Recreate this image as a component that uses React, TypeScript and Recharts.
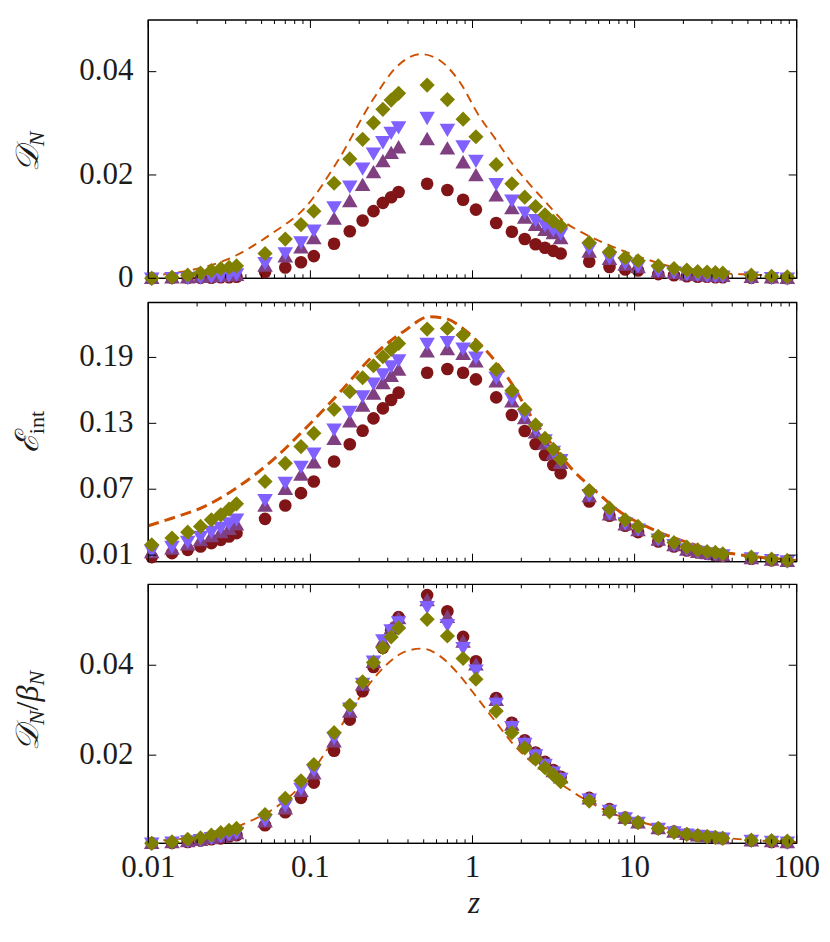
import React from 'react';
import { ComposedChart, Scatter, Line, XAxis, YAxis, Label, ReferenceArea } from 'recharts';

// ---------- data ----------
const zValues = [
  0.0105, 0.014, 0.0175, 0.021, 0.0245, 0.028, 0.0315, 0.035, 0.0525, 0.07, 0.0875,
  0.105, 0.14, 0.175, 0.21, 0.245, 0.28, 0.315, 0.35, 0.525, 0.7, 0.875,
  1.05, 1.4, 1.75, 2.1, 2.45, 2.8, 3.15, 3.5, 5.25, 7, 8.75,
  10.5, 14, 17.5, 21, 24.5, 28, 31.5, 35, 52.5, 70, 87.5,
];

const xMajorTicks = [0.01, 0.1, 1, 10, 100];
const xMajorLabels = ['0.01', '0.1', '1', '10', '100'];

// Panel 1: D_N
const dnRed = [0.0000,0.0001,0.0001,0.0001,0.0001,0.0002,0.0002,0.0003,0.0012,0.0021,0.0031,0.0043,0.0067,0.0091,0.0112,0.0130,0.0146,0.0157,0.0167,0.0183,0.0171,0.0152,0.0133,0.0107,0.0090,0.0076,0.0066,0.0059,0.0053,0.0048,0.0032,0.0022,0.0017,0.0015,0.0008,0.0006,0.0004,0.0003,0.0003,0.0002,0.0002,0.0001,0.0001,0.0000];
const dnPurple = [0.0000,0.0001,0.0001,0.0002,0.0003,0.0004,0.0005,0.0006,0.0024,0.0042,0.0059,0.0077,0.0115,0.0149,0.0180,0.0205,0.0226,0.0242,0.0253,0.0269,0.0251,0.0224,0.0199,0.0160,0.0135,0.0117,0.0103,0.0093,0.0087,0.0077,0.0051,0.0037,0.0026,0.0021,0.0013,0.0010,0.0007,0.0006,0.0005,0.0004,0.0004,0.0002,0.0001,0.0000];
const dnLavender = [0.0000,0.0001,0.0001,0.0002,0.0003,0.0005,0.0006,0.0008,0.0030,0.0049,0.0070,0.0093,0.0138,0.0178,0.0213,0.0242,0.0264,0.0282,0.0293,0.0311,0.0288,0.0256,0.0228,0.0183,0.0151,0.0128,0.0113,0.0103,0.0094,0.0087,0.0058,0.0040,0.0030,0.0024,0.0015,0.0012,0.0008,0.0006,0.0005,0.0004,0.0004,0.0002,0.0001,0.0000];
const dnOlive = [0.0000,0.0002,0.0006,0.0010,0.0015,0.0019,0.0021,0.0024,0.0048,0.0076,0.0104,0.0130,0.0184,0.0231,0.0269,0.0301,0.0327,0.0345,0.0358,0.0374,0.0346,0.0308,0.0274,0.0220,0.0183,0.0157,0.0139,0.0123,0.0110,0.0101,0.0069,0.0051,0.0040,0.0034,0.0024,0.0019,0.0016,0.0013,0.0012,0.0011,0.0010,0.0006,0.0004,0.0003];
const dnCurveZ = [0.01,0.0178,0.031,0.058,0.0935,0.15,0.24,0.35,0.48,0.62,0.83,1.1,1.39,1.77,2.24,2.84,3.6,4.79,7.35,11.8,19,30.5,54,100];
const dnCurve = [0.00045,0.0015,0.0037,0.0087,0.0138,0.0231,0.0343,0.0413,0.0434,0.0423,0.0381,0.0314,0.0269,0.0221,0.0183,0.0147,0.0112,0.0088,0.0061,0.0037,0.0019,0.0011,0.0007,0.0004];

// Panel 2: E_int
const eiRed = [0.0082,0.0118,0.0148,0.0179,0.0209,0.0239,0.0270,0.0300,0.0430,0.0552,0.0664,0.0770,0.0952,0.1109,0.1233,0.1345,0.1436,0.1512,0.1579,0.1761,0.1794,0.1761,0.1700,0.1536,0.1376,0.1230,0.1112,0.1012,0.0921,0.0845,0.0588,0.0458,0.0367,0.0309,0.0224,0.0179,0.0142,0.0124,0.0112,0.0103,0.0094,0.0067,0.0052,0.0045];
const eiPurple = [0.0124,0.0155,0.0194,0.0233,0.0270,0.0306,0.0336,0.0376,0.0548,0.0700,0.0830,0.0942,0.1155,0.1315,0.1458,0.1567,0.1664,0.1730,0.1785,0.1952,0.1973,0.1930,0.1860,0.1679,0.1497,0.1345,0.1215,0.1112,0.1021,0.0936,0.0633,0.0467,0.0376,0.0324,0.0239,0.0188,0.0148,0.0127,0.0115,0.0106,0.0097,0.0070,0.0055,0.0045];
const eiLavender = [0.0142,0.0179,0.0224,0.0270,0.0315,0.0352,0.0391,0.0427,0.0603,0.0761,0.0906,0.1027,0.1245,0.1406,0.1548,0.1664,0.1748,0.1821,0.1876,0.2027,0.2042,0.1982,0.1900,0.1718,0.1527,0.1376,0.1245,0.1148,0.1042,0.0967,0.0648,0.0482,0.0391,0.0336,0.0245,0.0194,0.0155,0.0133,0.0118,0.0109,0.0100,0.0073,0.0058,0.0045];
const eiOlive = [0.0194,0.0255,0.0309,0.0361,0.0421,0.0467,0.0518,0.0567,0.0770,0.0936,0.1088,0.1209,0.1427,0.1588,0.1715,0.1824,0.1906,0.1973,0.2027,0.2158,0.2164,0.2103,0.2003,0.1791,0.1597,0.1427,0.1285,0.1164,0.1064,0.0973,0.0688,0.0527,0.0421,0.0361,0.0270,0.0215,0.0173,0.0148,0.0133,0.0124,0.0112,0.0082,0.0064,0.0052];
const eiCurveZ = [0.01,0.014,0.0226,0.036,0.058,0.0935,0.15,0.24,0.386,0.54,0.68,0.9,1.15,1.77,2.24,2.84,4.15,5.79,8.08,11.8,19,30.5,49,79,100];
const eiCurve = [0.0367,0.0436,0.0548,0.0724,0.096,0.1255,0.1573,0.1906,0.2148,0.227,0.2255,0.2148,0.2,0.1648,0.139,0.1179,0.0876,0.0679,0.0497,0.0361,0.0239,0.0148,0.0094,0.0064,0.005];

// Panel 3: D_N / beta_N
const dbRed = [0.0004,0.0005,0.0007,0.0010,0.0013,0.0015,0.0019,0.0022,0.0044,0.0073,0.0105,0.0139,0.0210,0.0279,0.0342,0.0396,0.0439,0.0478,0.0507,0.0556,0.0520,0.0463,0.0409,0.0327,0.0272,0.0233,0.0206,0.0185,0.0167,0.0152,0.0105,0.0080,0.0061,0.0050,0.0037,0.0030,0.0024,0.0021,0.0019,0.0017,0.0015,0.0010,0.0007,0.0006];
const dbPurple = [0.0004,0.0006,0.0008,0.0011,0.0015,0.0018,0.0022,0.0026,0.0052,0.0081,0.0120,0.0159,0.0230,0.0296,0.0356,0.0407,0.0453,0.0481,0.0504,0.0544,0.0507,0.0452,0.0401,0.0322,0.0267,0.0230,0.0204,0.0181,0.0164,0.0150,0.0103,0.0078,0.0060,0.0050,0.0037,0.0029,0.0024,0.0021,0.0019,0.0017,0.0015,0.0010,0.0008,0.0006];
const dbLavender = [0.0004,0.0006,0.0009,0.0012,0.0016,0.0020,0.0024,0.0028,0.0056,0.0089,0.0126,0.0167,0.0239,0.0304,0.0359,0.0409,0.0456,0.0478,0.0496,0.0530,0.0490,0.0439,0.0389,0.0315,0.0263,0.0226,0.0200,0.0179,0.0162,0.0148,0.0102,0.0077,0.0060,0.0050,0.0037,0.0029,0.0024,0.0021,0.0019,0.0017,0.0015,0.0010,0.0008,0.0006];
const dbOlive = [0.0004,0.0007,0.0013,0.0016,0.0022,0.0028,0.0033,0.0037,0.0068,0.0104,0.0143,0.0179,0.0250,0.0311,0.0363,0.0406,0.0439,0.0463,0.0483,0.0502,0.0465,0.0415,0.0369,0.0298,0.0250,0.0216,0.0191,0.0172,0.0156,0.0141,0.0098,0.0074,0.0059,0.0050,0.0037,0.0028,0.0024,0.0021,0.0019,0.0017,0.0015,0.0011,0.0010,0.0009];
const dbCurveZ = [0.01,0.0178,0.0286,0.0418,0.064,0.0935,0.124,0.165,0.22,0.292,0.388,0.49,0.62,0.83,1.0,1.39,1.77,2.24,2.84,3.6,5.02,7.35,11.8,19,30.5,54,100];
const dbCurve = [0.0009,0.0016,0.003,0.0052,0.0089,0.0144,0.0207,0.0281,0.0348,0.04,0.0431,0.0437,0.0422,0.0378,0.0341,0.0274,0.0226,0.0189,0.0159,0.0133,0.01,0.007,0.0048,0.0031,0.0019,0.0011,0.0007];

const yTicks1 = [0, 0.02, 0.04];
const yLabels1 = ['0', '0.02', '0.04'];
const yTicks2 = [0.01, 0.07, 0.13, 0.19];
const yLabels2 = ['0.01', '0.07', '0.13', '0.19'];
const yTicks3 = [0.02, 0.04];
const yLabels3 = ['0.02', '0.04'];

// ---------- style ----------
const RED = '#801416';
const PURPLE = '#7f3f80';
const LAVENDER = '#8060ff';
const OLIVE = '#808000';
const DASH = '#cc5000';
const FONT = '"Liberation Serif", "DejaVu Serif", serif';
const TXT = '#1c1c1c';
const W = 830;
const PL = 148.3;
const PR = 796.7;
const FS = 31;

const zip = (xs: number[], ys: number[]) => xs.map((x, i) => ({ x, y: ys[i] }));

const xAllTicks: number[] = [];
xMajorTicks.forEach((m, i) => {
  xAllTicks.push(m);
  if (i < xMajorTicks.length - 1) {
    for (let k = 2; k <= 9; k++) xAllTicks.push(parseFloat((m * k).toPrecision(3)));
  }
});

const circleShape = (p: any) => <circle cx={p.cx} cy={p.cy} r={6.3} fill={RED} />;
const upShape = (p: any) => (
  <polygon points={`${p.cx},${p.cy - 7.5} ${p.cx + 7.8},${p.cy + 5.8} ${p.cx - 7.8},${p.cy + 5.8}`} fill={PURPLE} />
);
const downShape = (p: any) => (
  <polygon points={`${p.cx - 7.8},${p.cy - 5.8} ${p.cx + 7.8},${p.cy - 5.8} ${p.cx},${p.cy + 7.5}`} fill={LAVENDER} />
);
const diamondShape = (p: any) => (
  <polygon points={`${p.cx},${p.cy - 7.6} ${p.cx + 7.6},${p.cy} ${p.cx},${p.cy + 7.6} ${p.cx - 7.6},${p.cy}`} fill={OLIVE} />
);

type PanelProps = {
  top: number;
  height: number;
  mTop: number;
  mBottom: number;
  xAxisHeight: number;
  yDomain: [number, number];
  yTicks: number[];
  yLabels: string[];
  red: number[];
  purple: number[];
  lavender: number[];
  olive: number[];
  curveZ: number[];
  curve: number[];
  dashWidth: number;
  dashArray: string;
  showX: boolean;
  yLabel: React.ReactNode;
};

function Panel(props: PanelProps) {
  const { top, height, mTop, mBottom, xAxisHeight, yDomain, yTicks, yLabels, showX } = props;
  const plotTop = mTop;
  const plotBottom = height - mBottom - xAxisHeight;

  const yTick = (p: any) => {
    const y = p.y;
    const idx = yTicks.findIndex((t) => Math.abs(t - p.payload.value) < 1e-9);
    return (
      <g>
        <line x1={PL} x2={PL + 8} y1={y} y2={y} stroke="#000" strokeWidth={1} />
        <line x1={PR - 8} x2={PR} y1={y} y2={y} stroke="#000" strokeWidth={1} />
        <text x={133.5} y={y + 8.6} textAnchor="end" fontFamily={FONT} fontSize={FS} fill={TXT}>
          {idx >= 0 ? yLabels[idx] : ''}
        </text>
      </g>
    );
  };

  const xTick = (p: any) => {
    const x = p.x;
    const v = p.payload.value;
    const mi = xMajorTicks.findIndex((t) => Math.abs(t - v) / t < 1e-6);
    const len = mi >= 0 ? 8 : 4;
    return (
      <g>
        <line x1={x} x2={x} y1={plotBottom} y2={plotBottom - len} stroke="#000" strokeWidth={1} />
        <line x1={x} x2={x} y1={plotTop} y2={plotTop + len} stroke="#000" strokeWidth={1} />
        {showX && mi >= 0 ? (
          <text x={x} y={plotBottom + 33.4} textAnchor="middle" fontFamily={FONT} fontSize={FS} fill={TXT}>
            {xMajorLabels[mi]}
          </text>
        ) : null}
      </g>
    );
  };

  return (
    <div style={{ position: 'absolute', left: 0, top, width: W, height }}>
      <ComposedChart
        width={W}
        height={height}
        margin={{ top: mTop, right: W - PR, bottom: mBottom, left: 0 }}
      >
        <XAxis
          dataKey="x"
          type="number"
          scale="log"
          domain={[0.01, 100]}
          ticks={xAllTicks}
          interval={0}
          height={xAxisHeight}
          tickLine={false}
          tick={xTick}
          axisLine={{ stroke: '#000', strokeWidth: 1.3 }}
        >
          {showX ? (
            <Label
              content={() => (
                <text x={474} y={plotBottom + 70} textAnchor="middle" fontFamily={FONT} fontStyle="italic" fontSize={31} fill={TXT}>
                  z
                </text>
              )}
            />
          ) : null}
        </XAxis>
        <YAxis
          dataKey="y"
          type="number"
          domain={yDomain}
          ticks={yTicks}
          interval={0}
          width={PL}
          tickLine={false}
          tick={yTick}
          axisLine={{ stroke: '#000', strokeWidth: 1.3 }}
        >
          <Label content={() => props.yLabel} />
        </YAxis>
        <ReferenceArea
          x1={0.01}
          x2={100}
          y1={yDomain[0]}
          y2={yDomain[1]}
          fill="none"
          fillOpacity={0}
          stroke="#000"
          strokeWidth={1.3}
          ifOverflow="visible"
        />
        <Scatter data={zip(zValues, props.red)} shape={circleShape} isAnimationActive={false} />
        <Scatter data={zip(zValues, props.purple)} shape={upShape} isAnimationActive={false} />
        <Scatter data={zip(zValues, props.lavender)} shape={downShape} isAnimationActive={false} />
        <Scatter data={zip(zValues, props.olive)} shape={diamondShape} isAnimationActive={false} />
        <Line
          data={zip(props.curveZ, props.curve)}
          dataKey="y"
          type="monotone"
          stroke={DASH}
          strokeWidth={props.dashWidth}
          strokeDasharray={props.dashArray}
          dot={false}
          activeDot={false}
          isAnimationActive={false}
        />
      </ComposedChart>
    </div>
  );
}

const subFs = 22;

const label1 = (
  <text transform="rotate(-90 38 152)" x={38} y={152} textAnchor="middle" fontFamily={FONT} fontSize={32} fill={TXT}>
    <tspan fontStyle="italic">𝒟</tspan>
    <tspan fontStyle="italic" fontSize={subFs} dy={6}>N</tspan>
  </text>
);
const label2 = (
  <text transform="rotate(-90 38 150)" x={38} y={150} textAnchor="middle" fontFamily={FONT} fontSize={32} fill={TXT}>
    <tspan fontStyle="italic">ℰ</tspan>
    <tspan fontSize={subFs} dy={6}>int</tspan>
  </text>
);
const label3 = (
  <text transform="rotate(-90 38 145)" x={38} y={145} textAnchor="middle" fontFamily={FONT} fontSize={32} fill={TXT}>
    <tspan fontStyle="italic">𝒟</tspan>
    <tspan fontStyle="italic" fontSize={subFs} dy={6}>N</tspan>
    <tspan dy={-6}>/</tspan>
    <tspan fontStyle="italic">β</tspan>
    <tspan fontStyle="italic" fontSize={subFs} dy={6}>N</tspan>
  </text>
);

export default function App() {
  return (
    <div style={{ position: 'absolute', left: 0, top: 0, width: W, height: 942, background: '#fff' }}>
      <Panel
        top={0}
        height={300}
        mTop={20}
        mBottom={20.7}
        xAxisHeight={1}
        yDomain={[0, 0.05]}
        yTicks={yTicks1}
        yLabels={yLabels1}
        red={dnRed}
        purple={dnPurple}
        lavender={dnLavender}
        olive={dnOlive}
        curveZ={dnCurveZ}
        curve={dnCurve}
        dashWidth={1.9}
        dashArray="9 6"
        showX={false}
        yLabel={label1}
      />
      <Panel
        top={282}
        height={300}
        mTop={20.5}
        mBottom={19.3}
        xAxisHeight={1}
        yDomain={[0.004, 0.24]}
        yTicks={yTicks2}
        yLabels={yLabels2}
        red={eiRed}
        purple={eiPurple}
        lavender={eiLavender}
        olive={eiOlive}
        curveZ={eiCurveZ}
        curve={eiCurve}
        dashWidth={3}
        dashArray="11 6"
        showX={false}
        yLabel={label2}
      />
      <Panel
        top={566}
        height={376}
        mTop={18.3}
        mBottom={38.7}
        xAxisHeight={60}
        yDomain={[0.0004, 0.058]}
        yTicks={yTicks3}
        yLabels={yLabels3}
        red={dbRed}
        purple={dbPurple}
        lavender={dbLavender}
        olive={dbOlive}
        curveZ={dbCurveZ}
        curve={dbCurve}
        dashWidth={1.9}
        dashArray="9 6"
        showX={true}
        yLabel={label3}
      />
    </div>
  );
}
